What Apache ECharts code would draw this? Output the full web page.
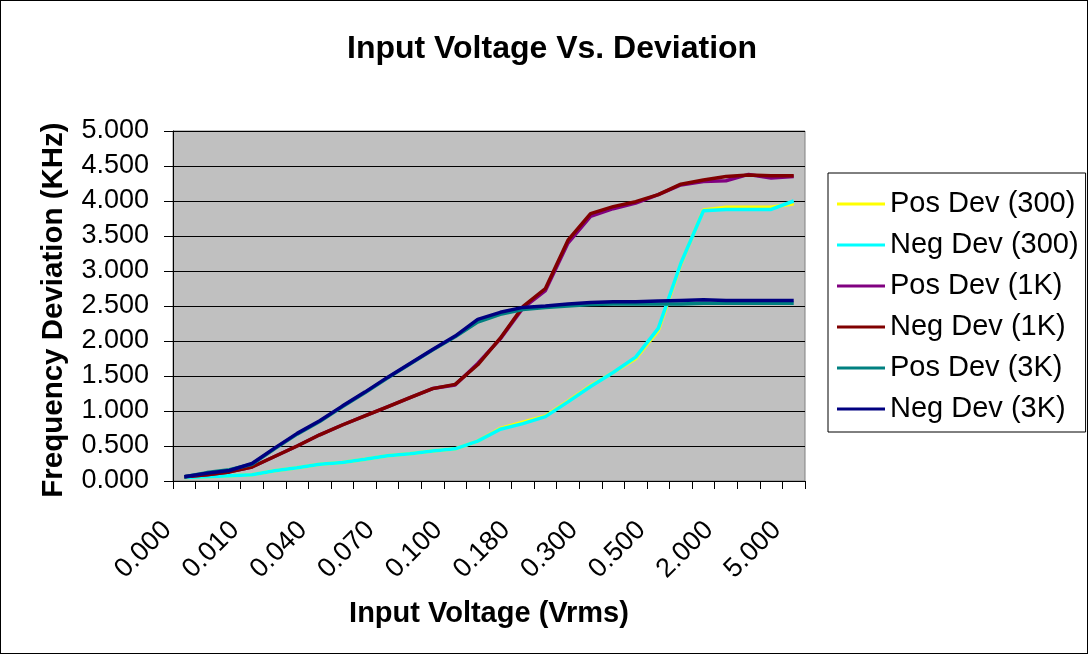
<!DOCTYPE html>
<html>
<head>
<meta charset="utf-8">
<script src="https://cdn.jsdelivr.net/npm/echarts@6/dist/echarts.min.js"></script>
<style>
html,body{margin:0;padding:0;background:#fff;}
#c{width:1088px;height:654px;box-sizing:border-box;border:1px solid #000;}
</style>
</head>
<body>
<div id="c"></div>
<script>
var categories = ['0.000','0.001','0.005','0.010','0.020','0.030','0.040','0.050','0.060','0.070','0.080','0.090','0.100','0.120','0.150','0.180','0.200','0.250','0.300','0.350','0.400','0.500','0.700','1.000','2.000','3.000','4.000','5.000'];
var yTicks = [0, 0.5, 1, 1.5, 2, 2.5, 3, 3.5, 4, 4.5, 5];
var posDev300 = [0.05,0.06,0.075,0.09,0.145,0.19,0.24,0.265,0.31,0.36,0.39,0.43,0.46,0.57,0.75,0.84,0.93,1.14,1.36,1.55,1.75,2.15,3.10,3.87,3.91,3.91,3.91,3.96];
var negDev300 = [0.05,0.06,0.075,0.09,0.145,0.19,0.24,0.265,0.31,0.36,0.39,0.43,0.46,0.57,0.74,0.82,0.92,1.13,1.35,1.55,1.77,2.18,3.11,3.86,3.88,3.88,3.88,4.00];
var posDev1K = [0.06,0.09,0.13,0.20,0.35,0.50,0.66,0.80,0.93,1.06,1.19,1.32,1.37,1.68,2.03,2.47,2.72,3.40,3.78,3.89,3.97,4.09,4.23,4.28,4.29,4.38,4.33,4.35];
var negDev1K = [0.06,0.09,0.13,0.20,0.35,0.50,0.66,0.80,0.93,1.06,1.19,1.32,1.38,1.66,2.04,2.49,2.75,3.44,3.82,3.92,3.99,4.09,4.24,4.30,4.35,4.37,4.36,4.36];
var posDev3K = [0.06,0.12,0.16,0.24,0.46,0.67,0.85,1.06,1.26,1.47,1.67,1.87,2.06,2.27,2.38,2.45,2.48,2.50,2.52,2.53,2.53,2.53,2.53,2.54,2.54,2.54,2.54,2.54];
var negDev3K = [0.06,0.11,0.15,0.25,0.47,0.68,0.86,1.07,1.27,1.48,1.68,1.88,2.07,2.31,2.41,2.48,2.50,2.53,2.55,2.56,2.56,2.57,2.58,2.59,2.58,2.58,2.58,2.58];

var seriesNames = ['Pos Dev (300)','Neg Dev (300)','Pos Dev (1K)','Neg Dev (1K)','Pos Dev (3K)','Neg Dev (3K)'];
var seriesData = [posDev300, negDev300, posDev1K, negDev1K, posDev3K, negDev3K];
var seriesColors = ['#FFFF00','#00FFFF','#800080','#800000','#008080','#000080'];

var chart = echarts.init(document.getElementById('c'), null, {renderer:'canvas'});
var FONT = 'Arial, "Liberation Sans", sans-serif';
chart.setOption({
  animation: false,
  textStyle: {fontFamily: FONT},
  title: {
    text: 'Input Voltage Vs. Deviation',
    left: 341, top: 27,
    textStyle: {fontFamily: FONT, fontSize: 32, fontWeight: 'bold', color: '#000'}
  },
  legend: {
    orient: 'vertical',
    left: 827, top: 172,
    data: seriesNames,
    icon: 'rect',
    borderColor: '#000', borderWidth: 1,
    padding: [15, 7, 7, 9],
    itemWidth: 48, itemHeight: 3, itemGap: 9,
    textStyle: {fontFamily: FONT, fontSize: 29, lineHeight: 32, color: '#000', padding: [0, 0, 0, 0]}
  },
  grid: {
    left: 172, right: 282, top: 130, bottom: 172,
    show: true, backgroundColor: '#C0C0C0', borderColor: '#808080', borderWidth: 1,
    outerBoundsMode: 'none'
  },
  xAxis: {
    type: 'category',
    data: categories,
    boundaryGap: true,
    name: 'Input Voltage (Vrms)',
    nameLocation: 'middle',
    nameGap: 118,
    nameTextStyle: {fontFamily: FONT, fontSize: 29, fontWeight: 'bold', color: '#000'},
    axisLine: {lineStyle: {color: '#000', width: 1}},
    axisTick: {show: true, interval: 0, length: 8, lineStyle: {color: '#000'}},
    axisLabel: {interval: 2, rotate: 45, margin: 28, fontFamily: FONT, fontSize: 27, color: '#000', padding: [0, 24, 0, 0]},
    splitLine: {show: false}
  },
  yAxis: {
    type: 'value',
    min: 0, max: 5, interval: 0.5,
    name: 'Frequency Deviation (KHz)',
    nameLocation: 'middle',
    nameGap: 104,
    nameTextStyle: {fontFamily: FONT, fontSize: 29.5, fontWeight: 'bold', color: '#000', padding: [0, 8, 0, 0]},
    axisLine: {show: true, lineStyle: {color: '#000', width: 1}},
    axisTick: {show: true, length: 9, lineStyle: {color: '#000'}},
    axisLabel: {margin: 24, fontFamily: FONT, fontSize: 27, color: '#000', formatter: function(v){return v.toFixed(3);}},
    splitLine: {show: true, lineStyle: {color: '#000', width: 1}}
  },
  series: seriesNames.map(function(n, i){
    return {
      name: n, type: 'line', data: seriesData[i],
      symbol: 'none', smooth: false,
      lineStyle: {color: seriesColors[i], width: 3.5},
      itemStyle: {color: seriesColors[i]}
    };
  })
});
</script>
</body>
</html>
